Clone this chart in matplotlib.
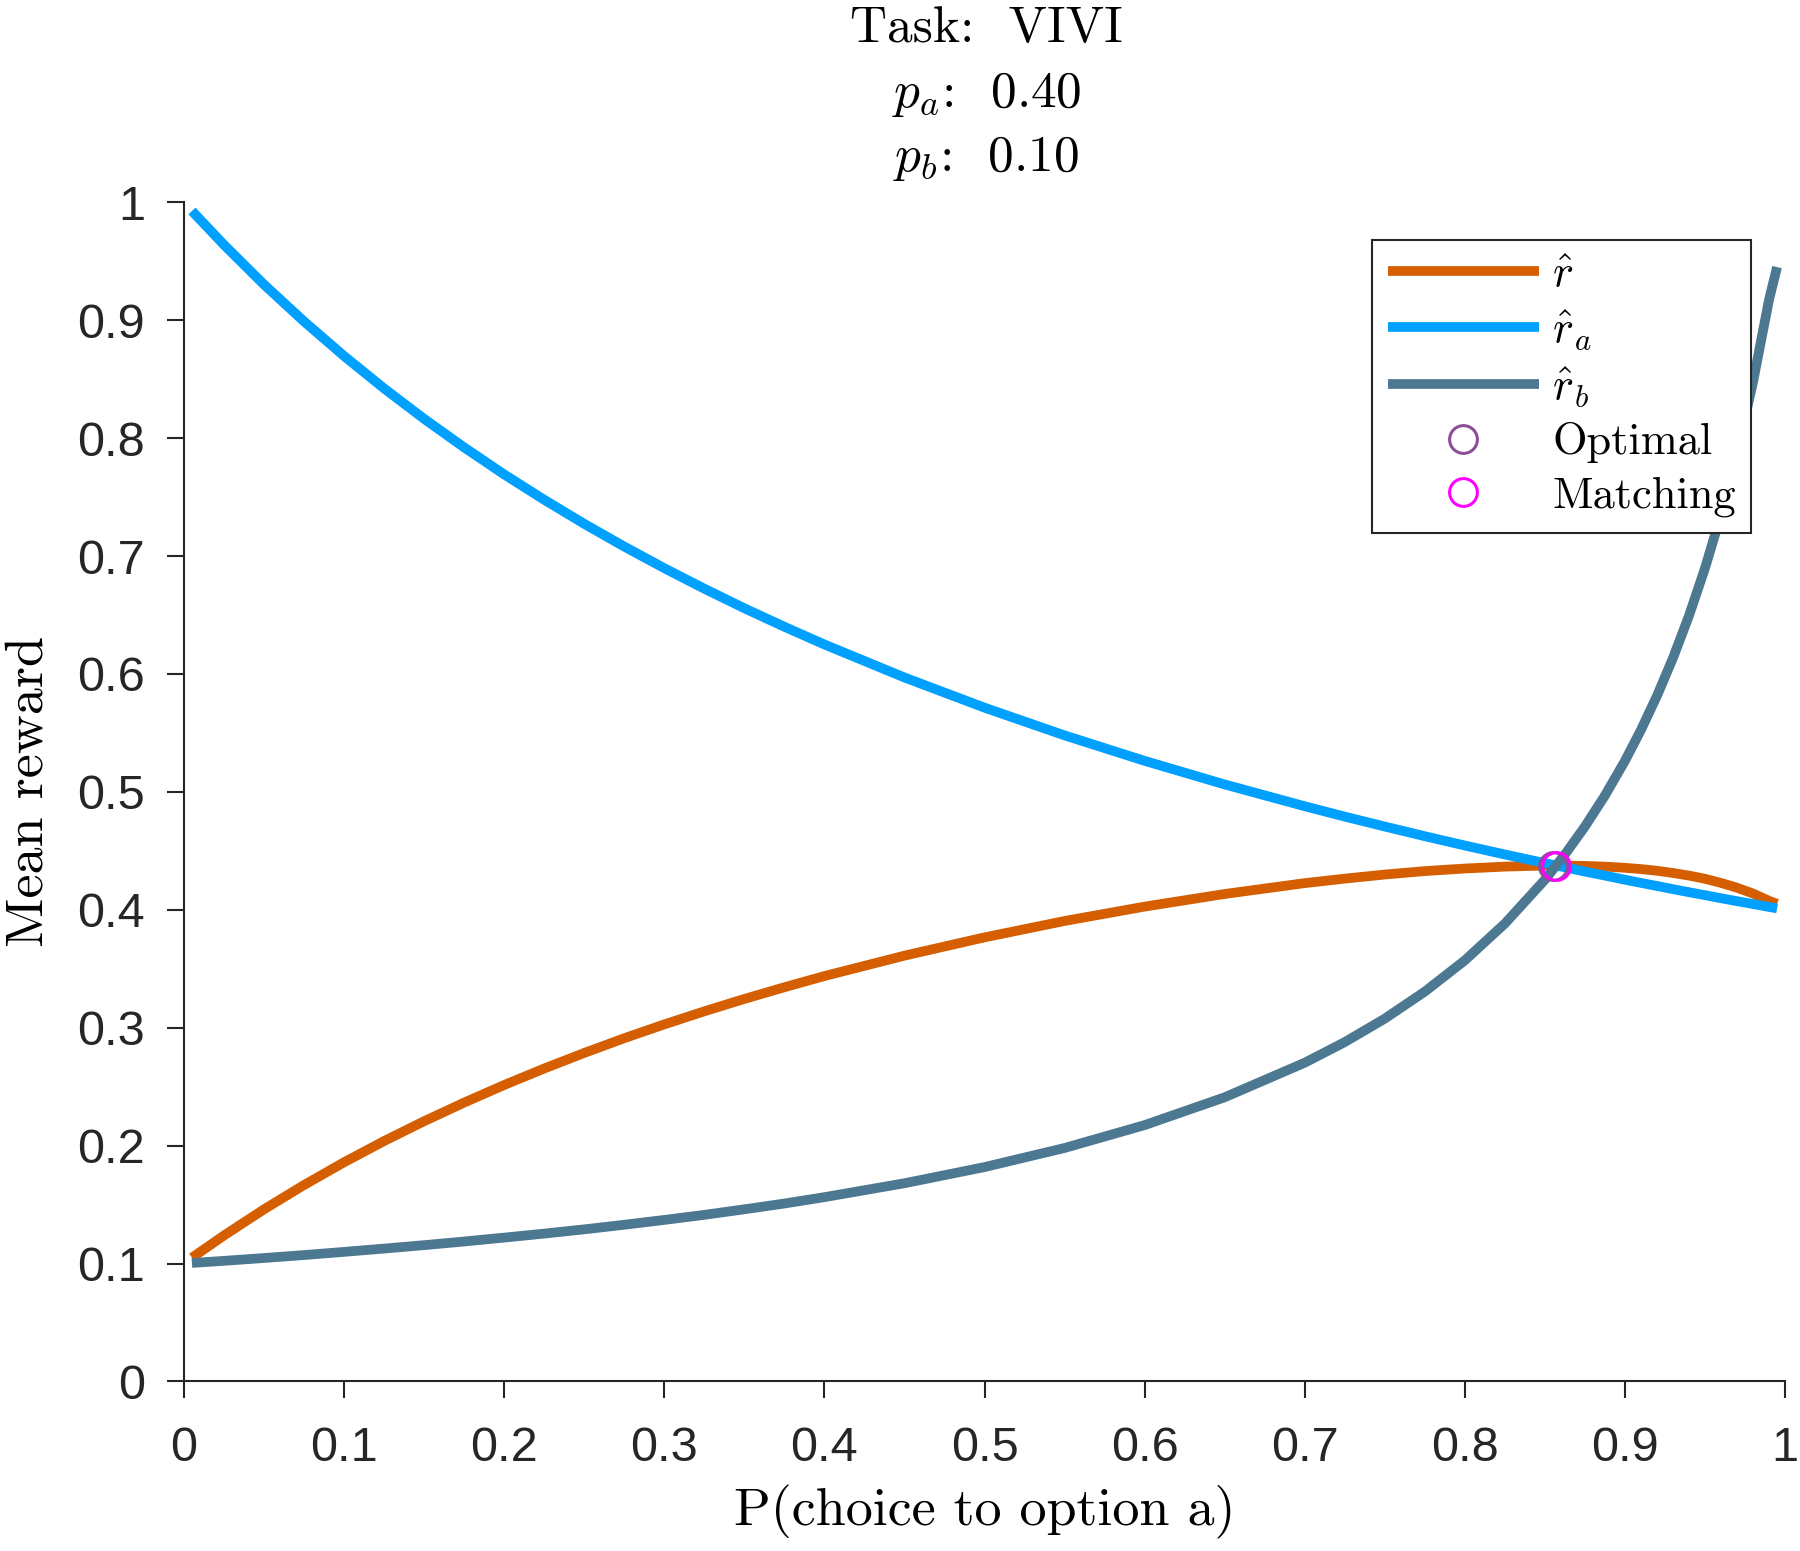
import matplotlib
matplotlib.use('Agg')
import matplotlib.pyplot as plt

# values
p_choice_a = [0.005, 0.025, 0.05, 0.075, 0.1, 0.125, 0.15, 0.175, 0.2, 0.225, 0.25, 0.275, 0.3, 0.325,
              0.35, 0.375, 0.4, 0.45, 0.5, 0.55, 0.6, 0.65, 0.7, 0.725, 0.75, 0.775, 0.8, 0.825, 0.85,
              0.8625, 0.875, 0.8875, 0.9, 0.91, 0.92, 0.93, 0.94, 0.95, 0.96, 0.97, 0.98, 0.99, 0.995]
r_hat = [0.1050, 0.1238, 0.1460, 0.1666, 0.1859, 0.2039, 0.2207, 0.2365, 0.2514, 0.2654, 0.2786, 0.2911,
         0.3028, 0.3139, 0.3244, 0.3343, 0.3438, 0.3611, 0.3766, 0.3905, 0.4027, 0.4134, 0.4226, 0.4264,
         0.4299, 0.4328, 0.4350, 0.4366, 0.4375, 0.4375, 0.4372, 0.4366, 0.4356, 0.4345, 0.4331, 0.4312,
         0.4290, 0.4263, 0.4228, 0.4187, 0.4138, 0.4076, 0.4050]
r_hat_a = [0.9926, 0.9639, 0.9302, 0.8989, 0.8696, 0.8421, 0.8163, 0.7921, 0.7692, 0.7477, 0.7273, 0.7080,
           0.6897, 0.6723, 0.6557, 0.6400, 0.6250, 0.5970, 0.5714, 0.5479, 0.5263, 0.5063, 0.4878, 0.4790,
           0.4706, 0.4624, 0.4545, 0.4469, 0.4396, 0.4360, 0.4324, 0.4290, 0.4255, 0.4228, 0.4202, 0.4175,
           0.4149, 0.4124, 0.4098, 0.4073, 0.4049, 0.4024, 0.4012]
r_hat_b = [0.1005, 0.1023, 0.1047, 0.1072, 0.1099, 0.1127, 0.1156, 0.1187, 0.1220, 0.1254, 0.1290, 0.1329,
           0.1370, 0.1413, 0.1460, 0.1509, 0.1563, 0.1681, 0.1818, 0.1980, 0.2174, 0.2410, 0.2703, 0.2878,
           0.3077, 0.3306, 0.3571, 0.3883, 0.4255, 0.4469, 0.4706, 0.4969, 0.5263, 0.5525, 0.5814, 0.6135,
           0.6494, 0.6897, 0.7353, 0.7874, 0.8475, 0.9174, 0.9450]
optimal_pt = (0.855, 0.4375)
matching_pt = (0.857, 0.4375)

task_name = 'VIVI'
p_a = 0.40
p_b = 0.10

plt.rcParams['mathtext.fontset'] = 'cm'
serif = 'cmr10'
axcol = '#262626'

fig = plt.figure(figsize=(18, 15.51), dpi=100)
ax = fig.add_axes([0.1022, 0.1093, 0.8895, 0.7603])

ax.plot(p_choice_a, r_hat, color='#d55e00', lw=7, solid_capstyle='butt', label=r'$\hat{r}$')
ax.plot(p_choice_a, r_hat_a, color='#00a0ff', lw=7, solid_capstyle='butt', label=r'$\hat{r}_a$')
ax.plot(p_choice_a, r_hat_b, color='#4c7891', lw=7, solid_capstyle='butt', label=r'$\hat{r}_b$')
ax.plot([optimal_pt[0]], [optimal_pt[1]], 'o', ms=20, mfc='none', mec='#8c4f96', mew=2.2, label='Optimal')
ax.plot([matching_pt[0]], [matching_pt[1]], 'o', ms=20, mfc='none', mec='#ff00ff', mew=2.2, label='Matching')

ax.set_xlim(0, 1)
ax.set_ylim(0, 1)
ax.set_xticks([i / 10 for i in range(11)])
ax.set_yticks([i / 10 for i in range(11)])
ax.set_xticklabels(['0'] + ['0.%d' % i for i in range(1, 10)] + ['1'])
ax.set_yticklabels(['0'] + ['0.%d' % i for i in range(1, 10)] + ['1'])
for s in ['top', 'right']:
    ax.spines[s].set_visible(False)
for s in ['left', 'bottom']:
    ax.spines[s].set_color(axcol)
    ax.spines[s].set_linewidth(1.5)
ax.tick_params(direction='out', length=12, width=1.5, color=axcol, labelcolor=axcol,
               labelsize=35)
ax.tick_params(axis='x', pad=20)
ax.tick_params(axis='y', pad=16)
for lab in ax.get_xticklabels() + ax.get_yticklabels():
    lab.set_fontfamily('Liberation Sans')

ax.set_xlabel('P(choice to option a)', fontsize=39, family=serif, labelpad=10)
ax.set_ylabel('Mean reward', fontsize=39, family=serif, labelpad=18)

fig.text(0.548, 0.981, 'Task:  ' + task_name, ha='center', va='center', fontsize=37, family=serif)
fig.text(0.548, 0.939, r'$p_a$:  %.2f' % p_a, ha='center', va='center', fontsize=37, family=serif)
fig.text(0.548, 0.898, r'$p_b$:  %.2f' % p_b, ha='center', va='center', fontsize=37, family=serif)

leg = ax.legend(loc='upper right', bbox_to_anchor=(0.979, 0.968), borderaxespad=0,
                prop={'family': serif, 'size': 32}, handlelength=3.4, numpoints=1,
                fancybox=False, framealpha=1, edgecolor=axcol, labelspacing=0.3,
                borderpad=0.35, handletextpad=0.3)
leg.get_frame().set_linewidth(1.5)

fig.savefig('out.png', dpi=100)
